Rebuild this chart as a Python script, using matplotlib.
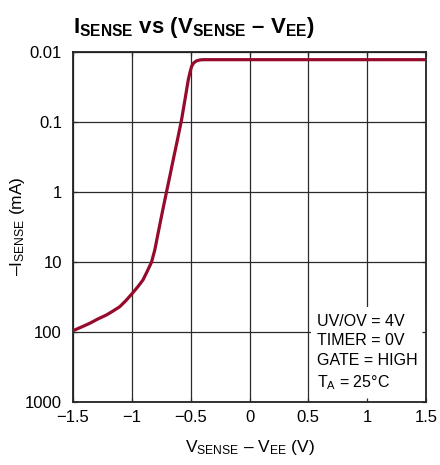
import matplotlib
matplotlib.use("Agg")
import matplotlib.pyplot as plt
from matplotlib import font_manager
from matplotlib.patches import Rectangle

# ---- data ----
v_sense = [-1.5, -1.43, -1.358, -1.29, -1.216, -1.16, -1.103, -1.05, -0.995, -0.95,
           -0.905, -0.87, -0.833, -0.805, -0.777, -0.743, -0.706, -0.678, -0.64,
           -0.61, -0.577, -0.548, -0.52, -0.505, -0.492, -0.475, -0.45, -0.42, -0.39,
           -0.3, 0.0, 0.5, 1.0, 1.5]
i_sense = [96.8, 86, 75.9, 66, 57.7, 50.7, 44.0, 35.9, 28.2, 22.9,
           18.2, 13.8, 10.2, 6.8, 3.93, 2.04, 1.02, 0.61, 0.30,
           0.174, 0.093, 0.048, 0.025, 0.0195, 0.0162, 0.0145, 0.0135, 0.0131, 0.013,
           0.013, 0.013, 0.013, 0.013, 0.013]
x_ticks = [-1.5, -1.0, -0.5, 0.0, 0.5, 1.0, 1.5]
x_ticklabels = ["\u22121.5", "\u22121", "\u22120.5", "0", "0.5", "1", "1.5"]
y_ticks = [0.01, 0.1, 1, 10, 100, 1000]
y_ticklabels = ["0.01", "0.1", "1", "10", "100", "1000"]
conditions = ["UV/OV = 4V", "TIMER = 0V", "GATE = HIGH", "$T_A$ = 25\u00b0C"]

# ---- fonts ----
fam = "Liberation Sans Narrow"
try:
    font_manager.findfont(fam, fallback_to_default=False)
except Exception:
    fam = "Liberation Sans"
plt.rcParams["font.family"] = [fam, "DejaVu Sans"]
plt.rcParams["mathtext.fontset"] = "custom"
plt.rcParams["mathtext.rm"] = fam
plt.rcParams["mathtext.it"] = fam
plt.rcParams["mathtext.bf"] = fam + ":bold"

fig = plt.figure(figsize=(4.4, 4.65), dpi=100)
ax = fig.add_axes([73 / 440, 1 - 401.7 / 465, 353 / 440, 350 / 465])

ax.set_yscale("log")
ax.set_xlim(-1.5, 1.5)
ax.set_ylim(1000, 0.01)

# grid (manual, below the condition area)
for xt in x_ticks:
    ax.axvline(xt, color="#2a2a2a", lw=0.9, zorder=0.5)
for yt in y_ticks:
    ax.axhline(yt, color="#2a2a2a", lw=0.9, zorder=0.5)

ax.plot(v_sense, i_sense, color="#960a2c", lw=2.3, zorder=3,
        solid_capstyle="round", solid_joinstyle="round")

ax.set_xticks(x_ticks)
ax.set_xticklabels(x_ticklabels)
ax.set_yticks(y_ticks)
ax.set_yticklabels(y_ticklabels)
ax.yaxis.set_minor_locator(matplotlib.ticker.NullLocator())
ax.tick_params(axis="both", which="major", direction="in", length=3, width=0.9,
               labelsize=12, top=True, right=True, color="#2a2a2a")
ax.tick_params(axis="x", pad=6)
ax.tick_params(axis="y", pad=8)
for s in ax.spines.values():
    s.set_linewidth(1.3)
    s.set_color("#222222")
ax.set_axisbelow(False)

# white condition area (no border, leaves the x=0.5 grid line visible)
box = Rectangle((0.674, 0.0), 0.326, 0.27, transform=ax.transAxes,
                facecolor="white", edgecolor="none", zorder=1)
ax.add_patch(box)
ax.text(0.691, 0.252, "\n".join(conditions), transform=ax.transAxes,
        ha="left", va="top", fontsize=11.5, linespacing=1.4, zorder=4)

ax.set_xlabel("$V_{SENSE}$ \u2013 $V_{EE}$ (V)", fontsize=12.5)
ax.xaxis.set_label_coords(0.5, -0.105)
ax.set_ylabel("\u2013$I_{SENSE}$ (mA)", fontsize=12.5)
ax.yaxis.set_label_coords(-0.13, 0.5)

fig.text(73 / 440, 1 - 33 / 465,
         "$\\mathbf{I_{SENSE}}$ vs ($\\mathbf{V_{SENSE}}$ \u2013 $\\mathbf{V_{EE}}$)",
         fontsize=16, fontweight="bold", ha="left", va="baseline")

fig.savefig("out.png", dpi=100)
